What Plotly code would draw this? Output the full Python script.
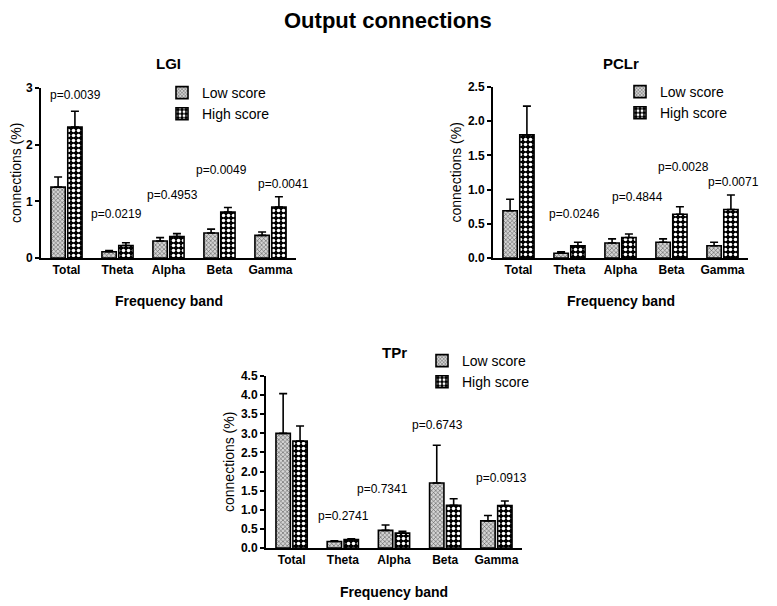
import plotly.graph_objects as go

# ---------------- data ----------------
bands = ["Total", "Theta", "Alpha", "Beta", "Gamma"]

lgi_low = [1.25, 0.11, 0.30, 0.44, 0.40]
lgi_low_err = [1.43, 0.13, 0.36, 0.51, 0.46]
lgi_high = [2.31, 0.22, 0.38, 0.81, 0.90]
lgi_high_err = [2.59, 0.27, 0.43, 0.89, 1.08]
lgi_p = ["p=0.0039", "p=0.0219", "p=0.4953", "p=0.0049", "p=0.0041"]

pclr_low = [0.69, 0.07, 0.22, 0.23, 0.18]
pclr_low_err = [0.86, 0.09, 0.28, 0.28, 0.23]
pclr_high = [1.80, 0.18, 0.30, 0.64, 0.71]
pclr_high_err = [2.22, 0.23, 0.35, 0.75, 0.92]
pclr_p = ["p=0.0091", "p=0.0246", "p=0.4844", "p=0.0028", "p=0.0071"]

tpr_low = [3.00, 0.17, 0.46, 1.70, 0.71]
tpr_low_err = [4.04, 0.19, 0.60, 2.69, 0.85]
tpr_high = [2.80, 0.22, 0.39, 1.12, 1.11]
tpr_high_err = [3.19, 0.24, 0.44, 1.29, 1.23]
tpr_p = ["p=0.8898", "p=0.2741", "p=0.7341", "p=0.6743", "p=0.0913"]

# ---------------- layout helpers ----------------
W, H = 777, 606
OFF = 8  # page body margin offset
FONT = "Liberation Sans, Arial, sans-serif"


def px(x):
    return (x - OFF) / W


def py(y):
    return 1 - (y - OFF) / H


panels = [
    dict(name="LGI", low=lgi_low, lowe=lgi_low_err, high=lgi_high, highe=lgi_high_err, p=lgi_p,
         x0=41, x1=296, yt=88, yb=258, ymax=3, dtick=1, fmt="d",
         leg=(162, 77), title_y=63, xlab_y=301, ylab_x=16,
         ppos=[(0.17, 2.88), (0.99, 0.78), (2.07, 1.11), (3.03, 1.55), (4.25, 1.31)]),
    dict(name="PCLr", low=pclr_low, lowe=pclr_low_err, high=pclr_high, highe=pclr_high_err, p=pclr_p,
         x0=493, x1=748, yt=87, yb=258, ymax=2.5, dtick=0.5, fmt=".1f",
         leg=(620, 76), title_y=63, xlab_y=301, ylab_x=455,
         ppos=[(0.20, 2.54), (1.09, 0.64), (2.33, 0.89), (3.23, 1.33), (4.22, 1.11)]),
    dict(name="TPr", low=tpr_low, lowe=tpr_low_err, high=tpr_high, highe=tpr_high_err, p=tpr_p,
         x0=266, x1=522, yt=376, yb=548, ymax=4.5, dtick=0.5, fmt=".1f",
         leg=(422, 345), title_y=353, xlab_y=592, ylab_x=229,
         ppos=[(0.11, 4.63), (1.02, 0.84), (1.77, 1.54), (2.84, 3.22), (4.09, 1.83)]),
]

low_pattern = dict(shape="x", size=3, solidity=0.3, fgcolor="#444444", bgcolor="#d4d4d4", fillmode="replace")
high_pattern = dict(shape=".", size=5, solidity=0.4, fgcolor="white", bgcolor="black", fillmode="replace")

fig = go.Figure()
annotations = []
layout_axes = {}

for i, p in enumerate(panels):
    k = "" if i == 0 else str(i + 1)
    xa, ya = "x" + k, "y" + k
    leg = "legend" + k
    for label, vals, errs, pat in [("Low score", p["low"], p["lowe"], low_pattern),
                                   ("High score", p["high"], p["highe"], high_pattern)]:
        fig.add_trace(go.Bar(
            x=bands, y=vals, name=label, xaxis=xa, yaxis=ya, legend=leg,
            marker=dict(color="white", pattern=pat, line=dict(color="black", width=1.6)),
            error_y=dict(type="data", symmetric=False,
                         array=[e - v for e, v in zip(errs, vals)],
                         arrayminus=[0] * len(vals),
                         color="black", thickness=1.6, width=4),
        ))
    layout_axes["xaxis" + k] = dict(
        domain=[px(p["x0"]), px(p["x1"])], anchor=ya, type="category",
        range=[-0.5, 4.5], showline=True, linecolor="black", linewidth=2,
        ticks="", showgrid=False, zeroline=False,
        tickfont=dict(family=FONT, size=12, color="black", weight="bold"),
    )
    layout_axes["yaxis" + k] = dict(
        domain=[py(p["yb"]), py(p["yt"])], anchor=xa,
        range=[0, p["ymax"]], dtick=p["dtick"], tick0=0, tickformat=p["fmt"],
        showline=True, linecolor="black", linewidth=2,
        ticks="outside", ticklen=4, tickwidth=2, tickcolor="black",
        showgrid=False, zeroline=False,
        tickfont=dict(family=FONT, size=12, color="black", weight="bold"),
    )
    layout_axes[leg] = dict(
        x=px(p["leg"][0]), y=py(p["leg"][1]), xanchor="left", yanchor="top",
        bgcolor="rgba(0,0,0,0)", font=dict(family=FONT, size=14, color="black"),
        tracegroupgap=0, itemwidth=30,
    )
    cx = (p["x0"] + p["x1"]) / 2
    common = dict(xref="paper", yref="paper", showarrow=False, xanchor="center", yanchor="middle")
    annotations.append(dict(text="<b>" + p["name"] + "</b>", x=px(cx), y=py(p["title_y"]),
                            font=dict(family=FONT, size=15, color="black"), **common))
    annotations.append(dict(text="<b>Frequency band</b>", x=px(cx), y=py(p["xlab_y"]),
                            font=dict(family=FONT, size=14, color="black"), **common))
    annotations.append(dict(text="connections (%)", x=px(p["ylab_x"]), y=py((p["yt"] + p["yb"]) / 2),
                            textangle=-90, font=dict(family=FONT, size=14, color="black"), **common))
    for txt, (ax, ay) in zip(p["p"], p["ppos"]):
        annotations.append(dict(text=txt, x=ax, y=ay, xref=xa, yref=ya, showarrow=False,
                                xanchor="center", yanchor="middle",
                                font=dict(family=FONT, size=12, color="black")))

annotations.append(dict(text="<b>Output connections</b>", x=px(388), y=py(20),
                        xref="paper", yref="paper", showarrow=False, xanchor="center", yanchor="middle",
                        font=dict(family=FONT, size=22, color="black")))

fig.update_layout(
    width=W, height=H, margin=dict(l=0, r=0, t=0, b=0, pad=0, autoexpand=False),
    paper_bgcolor="white", plot_bgcolor="white",
    barmode="group", bargap=0.34, bargroupgap=0.15,
    showlegend=True, annotations=annotations,
    font=dict(family=FONT, color="black"),
    **layout_axes,
)

fig.write_html("out.html")
